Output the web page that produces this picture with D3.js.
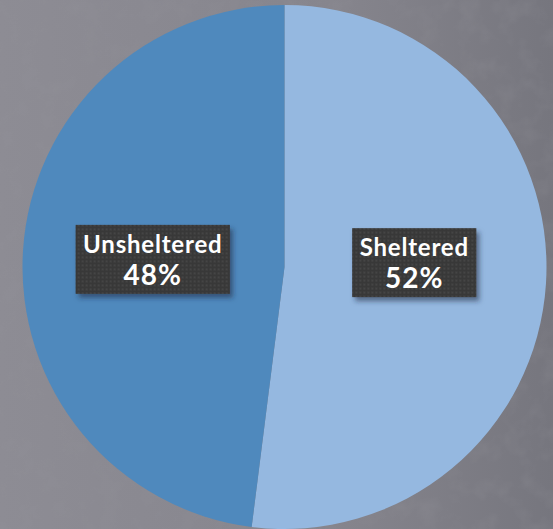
<!DOCTYPE html>
<html>
<head>
<meta charset="utf-8">
<script src="https://cdn.jsdelivr.net/npm/d3@7"></script>
<style>
  html, body { margin: 0; padding: 0; background: #85858c; }
  svg { display: block; }
</style>
</head>
<body>
<div id="chart"></div>
<script>
// data
const categories = ["Sheltered", "Unsheltered"];
const shares = [52, 48];
const sliceColors = ["#95b8e0", "#4f89bd"];

function renderPie() {
  const width = 553, height = 529;
  const cx = 284.5, cy = 267, radius = 262;

  const svg = d3.select("#chart")
    .append("svg")
    .attr("width", width)
    .attr("height", height);

  const defs = svg.append("defs");

  // grey backdrop, a bit darker on the right
  const bgGrad = defs.append("linearGradient")
    .attr("id", "bg")
    .attr("x1", "0").attr("x2", "1").attr("y1", "0").attr("y2", "0");
  bgGrad.append("stop").attr("offset", "0").attr("stop-color", "#8d8c94");
  bgGrad.append("stop").attr("offset", "0.6").attr("stop-color", "#86858d");
  bgGrad.append("stop").attr("offset", "1").attr("stop-color", "#76767e");

  // rough paper noise
  const noise = defs.append("filter").attr("id", "noise")
    .attr("x", 0).attr("y", 0).attr("width", "100%").attr("height", "100%");
  noise.append("feTurbulence")
    .attr("type", "fractalNoise")
    .attr("baseFrequency", "0.05")
    .attr("numOctaves", 3)
    .attr("seed", 7)
    .attr("result", "t");
  noise.append("feColorMatrix")
    .attr("in", "t")
    .attr("type", "matrix")
    .attr("values", "0 0 0 0 0.3  0 0 0 0 0.3  0 0 0 0 0.33  0 0 0 -1.6 0.9");

  // dotted texture for the label boxes
  const dots = defs.append("pattern")
    .attr("id", "dots")
    .attr("width", 4).attr("height", 4)
    .attr("patternUnits", "userSpaceOnUse");
  dots.append("rect").attr("width", 4).attr("height", 4).attr("fill", "#393939");
  dots.append("rect").attr("x", 1).attr("y", 1).attr("width", 2).attr("height", 2).attr("fill", "#444444");

  const shadow = defs.append("filter").attr("id", "shadow")
    .attr("x", "-20%").attr("y", "-20%").attr("width", "150%").attr("height", "160%");
  shadow.append("feDropShadow")
    .attr("dx", 3).attr("dy", 4)
    .attr("stdDeviation", 2.5)
    .attr("flood-color", "#1a2a40")
    .attr("flood-opacity", 0.55);

  svg.append("rect").attr("width", width).attr("height", height).attr("fill", "url(#bg)");
  svg.append("rect").attr("width", width).attr("height", height)
    .attr("filter", "url(#noise)").attr("opacity", 0.28);

  const g = svg.append("g").attr("transform", `translate(${cx},${cy})`);

  const pie = d3.pie().sort(null).value(d => d);
  const arcs = pie(shares);
  const arc = d3.arc().innerRadius(0).outerRadius(radius);
  const labelArc = d3.arc().innerRadius(radius * 0.5).outerRadius(radius * 0.5);

  g.selectAll("path.slice")
    .data(arcs)
    .enter()
    .append("path")
    .attr("class", "slice")
    .attr("d", arc)
    .attr("fill", (d, i) => sliceColors[i]);

  // data labels, kept near the horizontal middle like the original
  const labels = g.selectAll("g.label")
    .data(arcs)
    .enter()
    .append("g")
    .attr("class", "label")
    .attr("transform", d => {
      const c = labelArc.centroid(d);
      return `translate(${c[0] - 1},${c[1] * 0.2 - 6})`;
    });

  labels.each(function(d, i) {
    const lab = d3.select(this);
    const box = lab.append("rect").attr("fill", "url(#dots)").attr("filter", "url(#shadow)");
    const t1 = lab.append("text")
      .attr("text-anchor", "middle")
      .attr("y", -6.5)
      .attr("fill", "#ffffff")
      .style("font-family", "Lato, 'Open Sans', sans-serif")
      .style("font-weight", 700)
      .style("font-size", "24px")
      .style("letter-spacing", "0.8px")
      .text(categories[i]);
    const t2 = lab.append("text")
      .attr("text-anchor", "middle")
      .attr("y", 25.5)
      .attr("fill", "#ffffff")
      .style("font-family", "Lato, 'Open Sans', sans-serif")
      .style("font-weight", 700)
      .style("font-size", "28px")
      .style("letter-spacing", "1px")
      .text(shares[i] + "%");
    const w = Math.max(t1.node().getComputedTextLength(), t2.node().getComputedTextLength()) + 15;
    box.attr("x", -w / 2).attr("y", -34.5).attr("width", w).attr("height", 69);
  });
}

renderPie();
</script>
</body>
</html>
